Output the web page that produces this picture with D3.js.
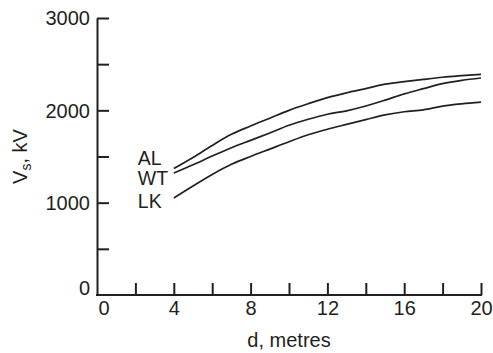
<!DOCTYPE html>
<html>
<head>
<meta charset="utf-8">
<script src="https://cdn.jsdelivr.net/npm/d3@7"></script>
<style>
  html, body { margin: 0; padding: 0; background: #fff; }
  svg { display: block; }
  text { font-family: "Liberation Sans", Arial, sans-serif; fill: #231f20; }
</style>
</head>
<body>
<svg id="chart" width="493" height="353"></svg>
<script>
const distances = [4, 5, 6, 7, 8, 9, 10, 11, 12, 13, 14, 15, 16, 17, 18, 19, 20];
const seriesNames = ["AL", "WT", "LK"];
const alValues = [1370, 1490, 1620, 1740, 1830, 1915, 2000, 2072, 2138, 2190, 2235, 2283, 2310, 2335, 2358, 2375, 2390];
const wtValues = [1320, 1410, 1505, 1595, 1675, 1755, 1838, 1903, 1958, 1995, 2047, 2110, 2178, 2235, 2290, 2325, 2350];
const lkValues = [1050, 1180, 1305, 1415, 1500, 1580, 1660, 1735, 1795, 1848, 1900, 1950, 1985, 2005, 2045, 2070, 2088];
const xTickValues = [0, 2, 4, 6, 8, 10, 12, 14, 16, 18, 20];
const xTickLabels = ["0", "", "4", "", "8", "", "12", "", "16", "", "20"];
const yTickValues = [0, 500, 1000, 1500, 2000, 2500, 3000];
const yTickLabels = ["0", "", "1000", "", "2000", "", "3000"];
const xTitle = "d, metres";

const svg = d3.select("#chart");
const ink = "#231f20";
const x = d3.scaleLinear().domain([0, 20]).range([97, 481]);
const y = d3.scaleLinear().domain([0, 3000]).range([295, 18]);

// Y axis
const yAxis = d3.axisLeft(y)
  .tickValues(yTickValues)
  .tickFormat((d, i) => yTickLabels[i])
  .tickSize(-12).tickSizeOuter(0).tickPadding(7);
const gy = svg.append("g").attr("transform", `translate(${x(0)},0)`).call(yAxis);
gy.select(".domain").attr("stroke", ink).attr("stroke-width", 2);
gy.selectAll(".tick line").attr("stroke", ink).attr("stroke-width", 2)
  .attr("display", d => d === 0 ? "none" : null);
gy.selectAll(".tick text").attr("font-size", 20).attr("fill", ink)
  .attr("font-family", "Liberation Sans, Arial, sans-serif")
  .attr("dy", d => d === 0 ? "-0.05em" : "0.34em");

// X axis
const xAxis = d3.axisBottom(x)
  .tickValues(xTickValues)
  .tickFormat((d, i) => xTickLabels[i])
  .tickSize(-12).tickSizeOuter(0).tickPadding(6);
const gx = svg.append("g").attr("transform", `translate(0,${y(0)})`).call(xAxis);
gx.select(".domain").attr("stroke", ink).attr("stroke-width", 2)
  .attr("d", `M${x(0) - 1},0H${x(20) + 1}`);
gx.selectAll(".tick line").attr("stroke", ink).attr("stroke-width", 2)
  .attr("display", d => d === 0 ? "none" : null);
gx.selectAll(".tick text").attr("font-size", 20).attr("fill", ink)
  .attr("font-family", "Liberation Sans, Arial, sans-serif")
  .attr("text-anchor", d => d === 0 ? "start" : "middle")
  .attr("dx", d => d === 0 ? "1" : "0");

// Axis titles
svg.append("text")
  .attr("x", (x(0) + x(20)) / 2).attr("y", 347)
  .attr("text-anchor", "middle").attr("font-size", 20)
  .text(xTitle);

const yt = svg.append("text")
  .attr("transform", `translate(27,${(y(0) + y(3000)) / 2}) rotate(-90)`)
  .attr("text-anchor", "middle").attr("font-size", 20);
yt.append("tspan").text("V");
yt.append("tspan").attr("font-size", 14).attr("dy", 4).text("s");
yt.append("tspan").attr("dy", -4).attr("font-size", 20).text(", kV");

// Lines
const series = [alValues, wtValues, lkValues];
const line = d3.line()
  .x((d, i) => x(distances[i]))
  .y(d => y(d))
  .curve(d3.curveMonotoneX);
svg.append("g").selectAll("path").data(series).join("path")
  .attr("d", line)
  .attr("fill", "none")
  .attr("stroke", ink)
  .attr("stroke-width", 1.7);

// Series labels
const labelDy = [-10, 5, 3];
svg.append("g").selectAll("text").data(seriesNames).join("text")
  .attr("x", x(distances[0]) - 36)
  .attr("y", (d, i) => y(series[i][0]) + labelDy[i])
  .attr("dy", "0.35em")
  .attr("text-anchor", "start")
  .attr("font-size", 19.5)
  .text(d => d);
</script>
</body>
</html>
